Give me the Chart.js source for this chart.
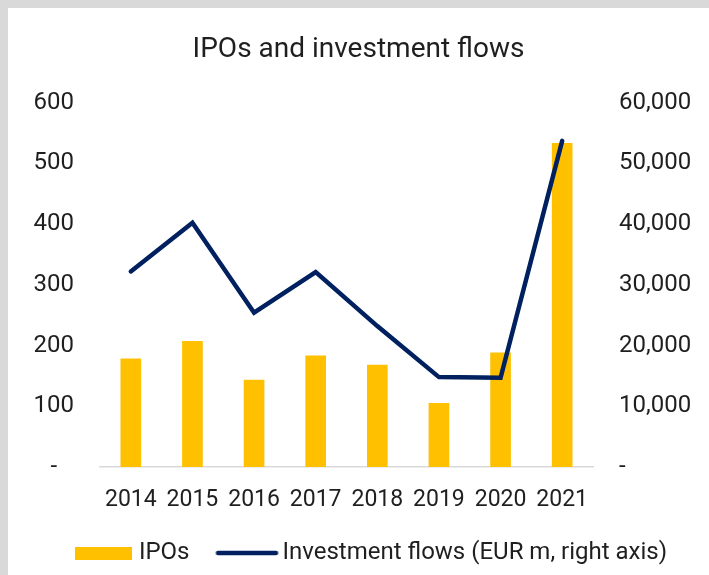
<!DOCTYPE html>
<html>
<head>
<meta charset="utf-8">
<script src="https://cdn.jsdelivr.net/npm/chart.js@4.4.0/dist/chart.umd.min.js"></script>
<style>
  html, body { margin: 0; padding: 0; background: #d9d9d9; }
  #panel { position: absolute; left: 8px; top: 8px; width: 701px; height: 567px; background: #fff; }
</style>
</head>
<body>
<div id="panel"><canvas id="chart"></canvas></div>
<script>
const years = ['2014', '2015', '2016', '2017', '2018', '2019', '2020', '2021']
const ipos = [178, 207, 143, 183, 168, 105, 188, 533]
// EUR m, right axis
const flows = [32200, 40200, 25400, 32100, 23200, 14800, 14700, 53700]

const textColor = '#1f1f1f'
const barColor = '#ffc000'
const lineColor = '#002060'
const plotBottom = 459

Chart.defaults.font.family = 'Roboto'
Chart.defaults.color = textColor

// legend symbols as small canvases (legend centres them on the box, so pad them)
function barIcon () {
  const c = document.createElement('canvas')
  c.width = 83; c.height = 13
  const ctx = c.getContext('2d')
  ctx.fillStyle = barColor
  ctx.fillRect(26, 0, 57, 13)
  return c
}
function lineIcon () {
  const c = document.createElement('canvas')
  c.width = 91; c.height = 6
  const ctx = c.getContext('2d')
  ctx.strokeStyle = lineColor
  ctx.lineWidth = 4.5
  ctx.lineCap = 'round'
  ctx.beginPath()
  ctx.moveTo(29.5, 3)
  ctx.lineTo(87.5, 3)
  ctx.stroke()
  return c
}
const icons = [barIcon(), lineIcon()]

const legendShift = {
  id: 'legendShift',
  afterLayout (chart) {
    chart.legend.left += 2
    chart.legend.right += 2
  }
}

new Chart(document.getElementById('chart'), {
  type: 'bar',
  data: {
    labels: years,
    datasets: [{
      label: 'IPOs',
      data: ipos,
      backgroundColor: barColor,
      barThickness: 20,
      yAxisID: 'y',
      order: 1
    }, {
      type: 'line',
      label: 'Investment flows (EUR m, right axis)',
      data: flows,
      borderColor: lineColor,
      backgroundColor: lineColor,
      borderWidth: 4.5,
      borderCapStyle: 'round',
      tension: 0,
      pointRadius: 0,
      yAxisID: 'y2',
      order: 0
    }]
  },
  plugins: [legendShift],
  options: {
    responsive: true,
    maintainAspectRatio: false,
    animation: false,
    layout: { padding: { left: 0, right: 0, top: 0, bottom: 0 } },
    plugins: {
      title: {
        display: true,
        text: 'IPOs and investment flows',
        color: textColor,
        font: { size: 28, weight: 'normal' },
        padding: { top: 25, bottom: 36 }
      },
      legend: {
        position: 'bottom',
        labels: {
          usePointStyle: true,
          pointStyleWidth: 73,
          boxHeight: 13,
          font: { size: 24 },
          padding: 8,
          sort: (a, b) => a.datasetIndex - b.datasetIndex,
          generateLabels: (chart) => {
            const items = Chart.defaults.plugins.legend.labels.generateLabels(chart)
            items.forEach(item => { item.pointStyle = icons[item.datasetIndex] })
            return items
          }
        }
      },
      tooltip: { enabled: false }
    },
    scales: {
      x: {
        grid: { display: false },
        border: { display: true, color: '#d9d9d9', width: 1.5 },
        ticks: { font: { size: 23 }, padding: 11, maxRotation: 0 },
        afterFit: (scale) => {
          scale.height = scale.chart.height - plotBottom - scale.chart.legend.height
        }
      },
      y: {
        position: 'left',
        min: 0,
        max: 600,
        grid: { display: false },
        border: { display: false },
        ticks: {
          stepSize: 100,
          font: { size: 24 },
          crossAlign: 'center',
          padding: 18,
          callback: (v) => v === 0 ? '-' : v
        },
        afterFit: (scale) => { scale.width = 92 }
      },
      y2: {
        position: 'right',
        min: 0,
        max: 60000,
        grid: { display: false },
        border: { display: false },
        ticks: {
          stepSize: 10000,
          font: { size: 24 },
          padding: 18,
          callback: (v) => v === 0 ? '-' : v.toLocaleString('en-US')
        },
        afterFit: (scale) => { scale.width = 116 }
      }
    }
  }
})
</script>
</body>
</html>
